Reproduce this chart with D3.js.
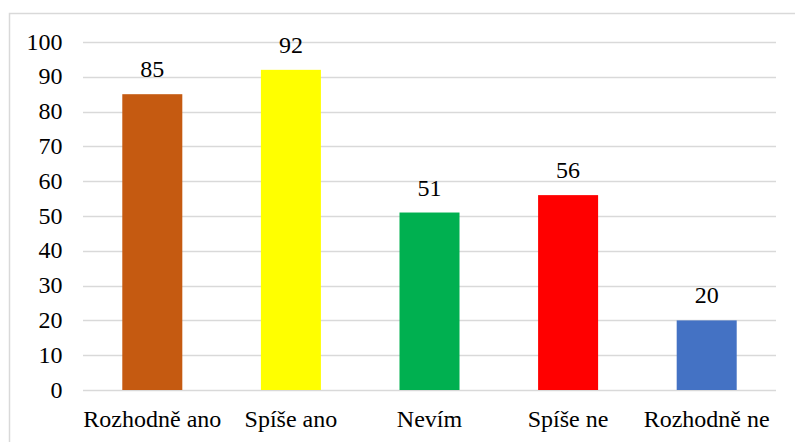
<!DOCTYPE html>
<html>
<head>
<meta charset="utf-8">
<script src="https://cdn.jsdelivr.net/npm/d3@7"></script>
</head>
<body style="margin:0">
<script>
var width = 795, height = 442;
var margin = {top: 42, right: 19, bottom: 52, left: 83};
var fontSize = 24;
var serif = "'Liberation Serif'";

var categories = ["Rozhodně ano", "Spíše ano", "Nevím", "Spíše ne", "Rozhodně ne"];
var values = [85, 92, 51, 56, 20];
var colors = ["#C55A11", "#FFFF00", "#00B050", "#FF0000", "#4472C4"];
var yTicks = [0, 10, 20, 30, 40, 50, 60, 70, 80, 90, 100];

var data = categories.map(function(c, i) {
  return {name: c, value: values[i], color: colors[i]};
});

var svg = d3.select("body").append("svg")
            .attr("width", width)
            .attr("height", height)
            .attr("font-family", "Liberation Serif, Times New Roman, serif");

// chart frame (runs off the right and bottom edge like the original)
svg.append("rect")
   .attr("x", 9.5).attr("y", 13.5)
   .attr("width", 800).attr("height", 440)
   .attr("fill", "none")
   .attr("stroke", "#d9d9d9")
   .attr("stroke-width", 1.5);

var x = d3.scaleBand()
          .domain(categories)
          .range([margin.left, width - margin.right])
          .paddingInner(0.567)
          .paddingOuter(0.2835);

var y = d3.scaleLinear()
          .domain([0, 100])
          .range([height - margin.bottom, margin.top]);

// gridlines
svg.append("g")
   .selectAll("line")
   .data(yTicks)
   .enter()
   .append("line")
   .attr("x1", margin.left)
   .attr("x2", width - margin.right)
   .attr("y1", function(d) { return Math.round(y(d)) + 0.5; })
   .attr("y2", function(d) { return Math.round(y(d)) + 0.5; })
   .attr("stroke", "#d9d9d9")
   .attr("stroke-width", 1.5);

// bars
svg.selectAll(".bar")
   .data(data)
   .enter()
   .append("rect")
   .attr("class", "bar")
   .attr("x", function(d) { return x(d.name); })
   .attr("width", x.bandwidth())
   .attr("y", function(d) { return y(d.value); })
   .attr("height", function(d) { return y(0) - y(d.value); })
   .attr("fill", function(d) { return d.color; });

// y axis labels
svg.selectAll(".ylab")
   .data(yTicks)
   .enter()
   .append("text")
   .attr("class", "ylab")
   .attr("x", margin.left - 20.5)
   .attr("y", function(d) { return y(d); })
   .attr("dy", "0.32em")
   .attr("text-anchor", "end")
   .text(function(d) { return d; });

// value labels
svg.selectAll(".val")
   .data(data)
   .enter()
   .append("text")
   .attr("class", "val")
   .attr("x", function(d) { return x(d.name) + x.bandwidth() / 2; })
   .attr("y", function(d) { return y(d.value) - 17; })
   .attr("text-anchor", "middle")
   .text(function(d) { return d.value; });

// category labels
svg.selectAll(".xlab")
   .data(categories)
   .enter()
   .append("text")
   .attr("class", "xlab")
   .attr("x", function(d) { return x(d) + x.bandwidth() / 2; })
   .attr("y", y(0) + 37)
   .attr("text-anchor", "middle")
   .text(function(d) { return d; });

function setFont() {
  svg.selectAll("text")
     .attr("font-family", "Liberation Serif, Times New Roman, serif")
     .attr("font-size", fontSize)
     .attr("fill", "#000")
     .style("font-family", serif);
}
setFont();
if (document.fonts && document.fonts.load) {
  document.fonts.load(fontSize + "px " + serif, "Rozhodně 85").then(setFont, setFont);
}
</script>
</body>
</html>
